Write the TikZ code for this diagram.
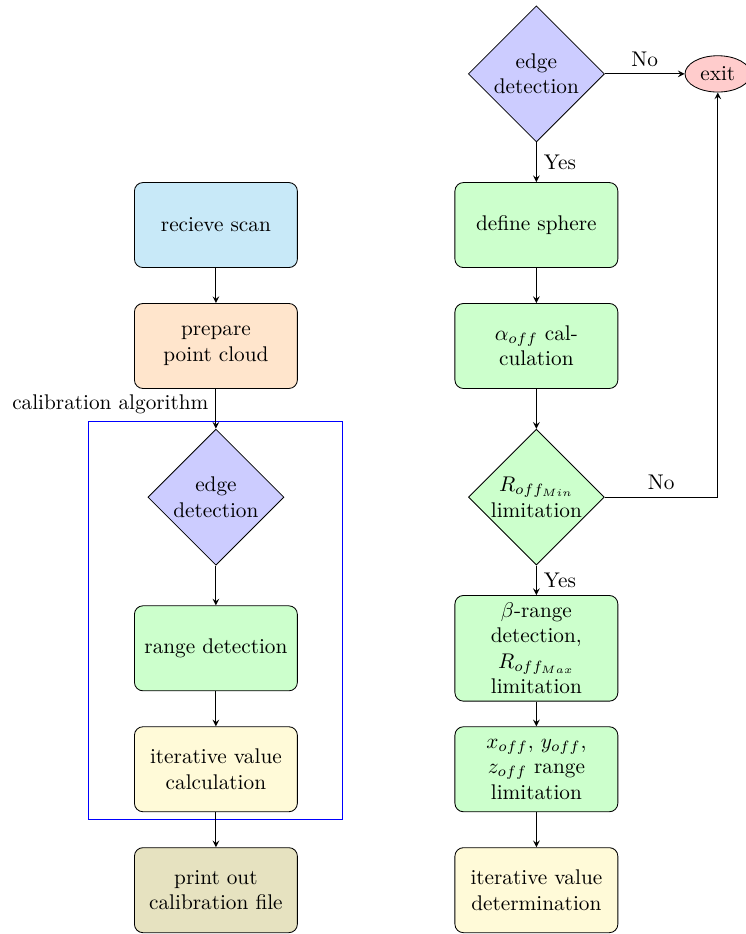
\documentclass[tikz,border=0pt]{standalone}
\usepackage{tikz}
\usetikzlibrary{shapes.geometric, positioning, arrows,
fit, % for the blue box round the calibration algorithm
calc
}
\definecolor{scanblue}{RGB}{200,233,248}
\definecolor{calcyellow}{RGB}{255,250,216}
\definecolor{printolive}{RGB}{230,226,192}
\definecolor{calibblue}{RGB}{0,0,255}
\tikzset{%
  node distance=2cm, % center to center distance of two blocks
  block/.style={rectangle, draw, text width=7em, text centered, rounded corners, minimum height=4em},
  decision/.style={diamond, draw, text width=4.5em, text badly centered, inner sep=0pt},
  terminal/.style={ellipse, draw, inner sep=2.7pt},
  line/.style={%
    draw, ->, >=stealth
  }
}
\usepackage{amsmath}

\begin{document}
\begin{tikzpicture}
    \useasboundingbox (-101.6pt,-333.6pt) rectangle (249.4pt,105.9pt);

    % main program
    \node[block, fill=scanblue] (scan) {recieve scan};
    \node[block, fill=orange!20, below of=scan] (prep) {prepare point cloud};
    \node[decision, fill=blue!20, below of=prep, node distance=2.5cm] (edge) {edge detection};
    \node[block, fill=green!20, below of=edge, node distance=2.5cm] (range) {range detection};
    \node[block, fill=calcyellow, below of=range] (iter) {iterative value calculation};
    \node[block, fill=printolive, below of=iter] (print) {print out calibration file};
    \node[draw=calibblue, line width=0.5pt, fit=(edge)(range)(iter), minimum width=4.2cm] (calib) {};
    \node[above left=0pt of calib.north] (calibtext) {calibration algorithm};

    % calibration algorithm in detail
    \node[block, fill=green!20, right of=scan, node distance=5.3cm] (sphere) {define sphere};
    \node[decision, fill=blue!20, above of=sphere, node distance=2.5cm] (edgeR) {edge detection};
    \node[terminal, fill=red!20, right of=edgeR, node distance=3cm] (exit) {exit};
    \node[block, fill=green!20, below of=sphere] (alpha) {$\alpha_{off}$ cal\-culation};
    \node[decision, fill=green!20, below of=alpha, node distance=2.5cm] (rmin) {$R_{off_{Min}}$ limitation};
    \node[block, fill=green!20, below of=rmin, node distance=2.5cm] (beta) {$\beta$-range detection, $R_{off_{Max}}$ limitation};
    \node[block, fill=green!20, below of=beta] (xyz) {$x_{off}$, $y_{off}$, $z_{off}$ range limitation};
    \node[block, fill=calcyellow, below of=xyz] (detiter) {iterative value determination};

    \path[line] (scan) -- (prep);
    \path[line] (prep) -- (edge);
    \path[line] (edge) -- (range);
    \path[line] (range) -- (iter);
    \path[line] (iter) -- (print);

    \path[line] (edgeR) -- node[above] {No} (exit);
    \path[line] (edgeR) -- node[right] {Yes} (sphere);
    \path[line] (sphere) -- (alpha);
    \path[line] (alpha) -- (rmin);
    \path[line] (rmin) -| node[above, near start] {No} (exit);
    \path[line] (rmin) -- node[right] {Yes} (beta);
    \path[line] (beta) -- (xyz);
    \path[line] (xyz) -- (detiter);
  \end{tikzpicture}
\end{document}
